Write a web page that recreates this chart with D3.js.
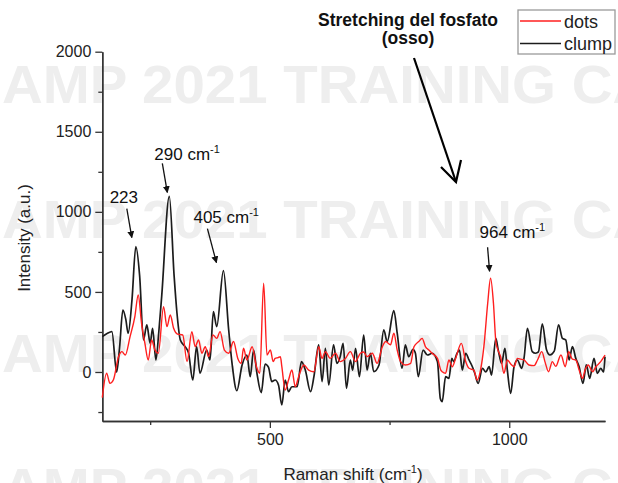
<!DOCTYPE html>
<html>
<head>
<meta charset="utf-8">
<script src="https://cdn.jsdelivr.net/npm/d3@7"></script>
<style>
  html, body { margin: 0; padding: 0; background: #fff; }
  svg { display: block; font-family: "Liberation Sans", Arial, sans-serif; }
</style>
</head>
<body>
<svg id="chart" width="618" height="483"></svg>
<script>
// Raman shift (cm^-1) and intensity (a.u.) for the two samples
const clumpShift = [150,160,170,180,186,193,199,204,212,220,228,236,243,250,255,262,268,274,290,300,306,313,323,330,339,347,354,368,375,382,389,403,414,421,431,442,452,459,466,473,482,490,497,504,511,518,525,532,539,546,557,566,574,585,592,602,609,616,623,633,640,647,653,660,668,673,679,687,696,703,710,717,728,738,745,759,766,776,783,790,799,804,810,820,829,839,850,856,860,867,874,880,884,891,896,902,909,916,923,928,935,944,951,958,963,972,977,984,991,996,1003,1010,1017,1026,1031,1038,1048,1055,1061,1069,1078,1085,1094,1103,1111,1118,1125,1132,1139,1146,1154,1161,1168,1177,1184,1191,1197,1200];
const clumpIntensity = [221,240,252,0,150,387,330,242,450,783,600,200,294,179,273,75,250,471,1096,600,367,200,158,120,-50,158,-8,137,75,377,283,633,262,54,-117,44,106,-29,137,-8,-129,50,30,-60,-50,-81,-206,-50,-123,-92,-92,65,12,-123,-29,169,-60,148,-81,169,54,96,179,-102,75,12,148,-29,231,12,117,2,44,263,190,383,242,23,169,96,142,117,-29,137,106,117,65,-165,-185,-29,-40,85,65,117,137,12,117,75,33,-8,-71,23,0,33,-19,210,137,54,148,12,-133,33,75,23,90,273,127,117,125,300,137,106,130,294,210,200,75,158,85,33,-71,44,-40,85,-8,23,0,96];

const dotsShift = [150,159,166,173,184,191,198,208,218,225,232,239,246,253,260,267,278,285,292,299,307,318,327,337,344,351,358,365,372,381,389,396,405,414,424,433,440,445,452,463,472,479,487,494,501,507,511,517,522,525,532,539,546,553,560,571,581,592,602,609,616,626,637,647,658,668,679,689,696,703,714,724,735,742,752,759,766,773,783,794,801,811,818,825,832,839,850,857,860,867,874,881,888,900,909,916,926,933,940,947,955,961,967,972,976,982,989,996,1003,1010,1017,1024,1031,1041,1052,1059,1068,1075,1082,1090,1097,1108,1117,1124,1132,1139,1146,1153,1158,1165,1174,1181,1191,1198,1200];
const dotsIntensity = [-160,-8,-71,-50,96,127,106,221,346,481,304,179,75,200,137,117,408,283,356,273,237,231,65,252,158,200,117,158,96,231,210,252,137,117,190,85,54,148,75,158,33,-8,554,106,137,65,85,90,95,33,-112,-50,12,-92,-29,44,12,2,158,85,127,85,117,65,85,127,65,117,125,96,117,54,158,190,170,242,137,65,44,54,158,190,210,158,137,117,85,12,2,-8,75,33,85,179,65,23,12,-50,12,158,429,585,429,190,140,96,-8,75,50,33,85,80,75,44,40,75,127,60,2,65,35,106,33,127,80,75,12,-40,10,44,2,33,65,96,106];

// Axis ticks
const xMajorTicks = [500, 1000];
const xMinorTicks = [250, 750];
const yMajorTicks = [0, 500, 1000, 1500, 2000];
const yMinorTicks = [-250, 250, 750, 1250, 1750];

// Legend entries and peak callouts
const seriesNames = ["dots", "clump"];
const peakLabels = ["223", "290 cm", "405 cm", "964 cm"];
const peakSuper = ["", "-1", "-1", "-1"];
const peakShift = [220, 290, 403, 961];
const peakIntensity = [783, 1096, 633, 585];

const svg = d3.select("#chart");

const x = d3.scaleLinear().domain([150, 1200]).range([102.3, 605]);
const y = d3.scaleLinear().domain([-306, 2000]).range([421, 51.7]);

// Background watermark rows
const wm = svg.append("g").attr("fill", "#eeeeee").attr("font-weight", "bold")
  .attr("font-size", 53);
[103, 238, 372, 506].forEach(b => {
  wm.append("text").attr("transform", `translate(2,${b}) scale(1.065,1)`)
    .text("AMP 2021 TRAINING CAMP");
});

// Axes
const axisColor = "#333";
function styleAxis(g) {
  g.select(".domain").attr("stroke", axisColor).attr("stroke-width", 1.4);
  g.selectAll(".tick line").attr("stroke", axisColor).attr("stroke-width", 1.3);
  g.selectAll(".tick text").attr("fill", "#222").attr("font-size", 16)
    .attr("font-family", "Liberation Sans, Arial, sans-serif");
}

svg.append("g").attr("transform", `translate(0,421)`)
  .call(d3.axisBottom(x).tickValues(xMinorTicks).tickSize(4).tickSizeOuter(0).tickFormat(""))
  .call(styleAxis);
svg.append("g").attr("transform", `translate(0,421)`)
  .call(d3.axisBottom(x).tickValues(xMajorTicks).tickSize(7).tickSizeOuter(0).tickPadding(6).tickFormat(d3.format("d")))
  .call(styleAxis);

svg.append("g").attr("transform", `translate(102.3,0)`)
  .call(d3.axisLeft(y).tickValues(yMinorTicks).tickSize(4).tickSizeOuter(0).tickFormat(""))
  .call(styleAxis);
svg.append("g").attr("transform", `translate(102.3,0)`)
  .call(d3.axisLeft(y).tickValues(yMajorTicks).tickSize(7).tickSizeOuter(0).tickPadding(4).tickFormat(d3.format("d")))
  .call(styleAxis);

// Axis titles
svg.append("text").attr("transform", "translate(30,238) rotate(-90)")
  .attr("text-anchor", "middle").attr("font-size", 17).attr("fill", "#222")
  .text("Intensity (a.u.)");

const xt = svg.append("text").attr("x", 353).attr("y", 480)
  .attr("text-anchor", "middle").attr("font-size", 17).attr("fill", "#222");
xt.append("tspan").text("Raman shift (cm");
xt.append("tspan").attr("font-size", 11).attr("dy", -7).text("-1");
xt.append("tspan").attr("dy", 7).text(")");

// Spectra
const line = d3.line().x(d => x(d[0])).y(d => y(d[1])).curve(d3.curveMonotoneX);
const dotsData = d3.zip(dotsShift, dotsIntensity);
const clumpData = d3.zip(clumpShift, clumpIntensity);

svg.append("path").datum(clumpData).attr("d", line)
  .attr("fill", "none").attr("stroke", "#1c1c1c").attr("stroke-width", 1.7)
  .attr("stroke-linejoin", "round");
svg.append("path").datum(dotsData).attr("d", line)
  .attr("fill", "none").attr("stroke", "#ff1f1f").attr("stroke-width", 1.4)
  .attr("stroke-linejoin", "round");

// Arrowhead marker
svg.append("defs").append("marker").attr("id", "tri")
  .attr("viewBox", "0 0 10 10").attr("refX", 9).attr("refY", 5)
  .attr("markerWidth", 7).attr("markerHeight", 7).attr("markerUnits", "userSpaceOnUse")
  .attr("orient", "auto")
  .append("path").attr("d", "M0,0 L10,5 L0,10 Z").attr("fill", "#111");

// Peak callouts: label offset and arrow start/end relative to the peak
const labelOff = [[-12, -50], [-15, -42], [-30, -54], [-11, -46]];
const arrowFrom = [[-9, -38], [-7, -33], [-16, -42], [-3, -31]];
const arrowTo = [[-4, -9], [-2, -4], [-7, -8], [-1, -7]];

peakShift.forEach((s, i) => {
  const px = x(s), py = y(peakIntensity[i]);
  svg.append("line")
    .attr("x1", px + arrowFrom[i][0]).attr("y1", py + arrowFrom[i][1])
    .attr("x2", px + arrowTo[i][0]).attr("y2", py + arrowTo[i][1])
    .attr("stroke", "#111").attr("stroke-width", 1.3).attr("marker-end", "url(#tri)");
  const t = svg.append("text").attr("font-size", 17).attr("fill", "#111")
    .attr("text-anchor", i === 0 ? "middle" : "start")
    .attr("x", px + labelOff[i][0])
    .attr("y", py + labelOff[i][1] + 6);
  t.append("tspan").text(peakLabels[i]);
  if (peakSuper[i]) t.append("tspan").attr("font-size", 11).attr("dy", -7).text(peakSuper[i]);
});

// Phosphate stretching callout
const head = svg.append("text").attr("text-anchor", "middle")
  .attr("font-weight", "bold").attr("font-size", 17.5).attr("fill", "#111");
head.append("tspan").attr("x", 408).attr("y", 26).text("Stretching del fosfato");
head.append("tspan").attr("x", 408).attr("y", 44).text("(osso)");

const tipX = 456, tipY = 182;
svg.append("line").attr("x1", 414).attr("y1", 58).attr("x2", tipX).attr("y2", tipY)
  .attr("stroke", "#000").attr("stroke-width", 2.2);
svg.append("path").attr("d", `M441,167 L${tipX},${tipY} L461,160`)
  .attr("fill", "none").attr("stroke", "#000").attr("stroke-width", 2.2)
  .attr("stroke-linejoin", "miter");

// Legend
const lg = svg.append("g");
lg.append("rect").attr("x", 518).attr("y", 10).attr("width", 97).attr("height", 44)
  .attr("fill", "#fff").attr("stroke", "#9a9a9a").attr("stroke-width", 1.3);
const legColors = ["#ff1f1f", "#1c1c1c"];
seriesNames.forEach((n, i) => {
  const ly = 21 + i * 22.5;
  lg.append("line").attr("x1", 520).attr("x2", 561).attr("y1", ly).attr("y2", ly)
    .attr("stroke", legColors[i]).attr("stroke-width", 1.4);
  lg.append("text").attr("x", 564).attr("y", ly + 6.5).attr("font-size", 18)
    .attr("fill", "#222").text(n);
});
</script>
</body>
</html>
